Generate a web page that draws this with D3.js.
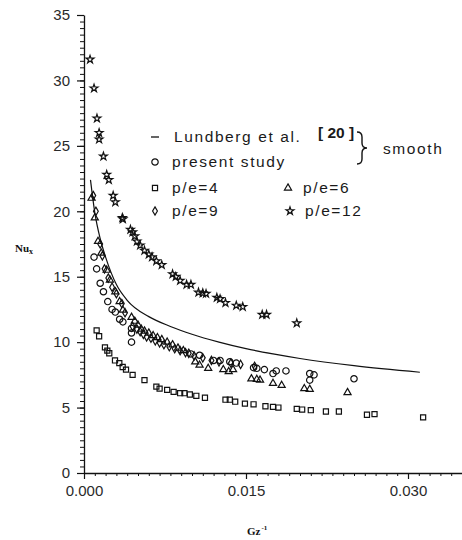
<!DOCTYPE html>
<html>
<head>
<meta charset="utf-8">
<script src="https://cdn.jsdelivr.net/npm/d3@7"></script>
<style>
  html, body { margin: 0; padding: 0; background: #fff; }
  svg { display: block; }
  .tick text { font-family: "Liberation Sans", Arial, sans-serif; font-size: 15px; fill: #2a2a2a; }
  .legend text { font-family: "Liberation Sans", Arial, sans-serif; font-size: 15.5px; fill: #1a1a1a; letter-spacing: 1.6px; }
</style>
</head>
<body>
<div id="chart"></div>
<script>
// Local Nusselt number versus inverse Graetz number

const xTicks = [0.000, 0.015, 0.030];
const yTicks = [0, 5, 10, 15, 20, 25, 30, 35];

// Lundberg et al. [20], smooth tube correlation
const lundbergGz = [0.0006, 0.0010, 0.0015, 0.0020, 0.0030, 0.0040, 0.0060, 0.0080, 0.0100, 0.0125, 0.0150, 0.0175, 0.0200, 0.0250, 0.0311];
const lundbergNu = [22.4, 19.9, 17.9, 16.5, 14.4, 13.2, 11.95, 11.2, 10.6, 10.0, 9.5, 9.1, 8.75, 8.2, 7.7];

// present study, smooth tube
const smoothGz = [0.00093, 0.00117, 0.0015, 0.0018, 0.0022, 0.0026, 0.0029, 0.0033, 0.0036, 0.0044, 0.0044, 0.0044, 0.0099, 0.0107, 0.0120, 0.0126, 0.0135, 0.0141, 0.0157, 0.0160, 0.0167, 0.0175, 0.0178, 0.0187, 0.0209, 0.0213, 0.0209, 0.0250];
const smoothNu = [16.5, 15.6, 14.5, 13.85, 13.1, 12.5, 12.3, 11.75, 11.55, 11.05, 10.7, 10.0, 9.1, 9.0, 8.6, 8.6, 8.5, 8.4, 8.05, 8.0, 7.9, 7.6, 7.8, 7.8, 7.6, 7.5, 7.1, 7.2];

// p/e = 4
const pe4Gz = [0.00117, 0.0014, 0.00194, 0.00216, 0.00234, 0.00287, 0.00327, 0.00358, 0.00389, 0.0045, 0.0056, 0.0067, 0.0070, 0.0077, 0.0083, 0.0089, 0.0093, 0.0098, 0.0104, 0.0112, 0.0131, 0.0135, 0.0140, 0.0149, 0.0157, 0.0168, 0.0175, 0.0180, 0.0197, 0.0202, 0.0210, 0.0224, 0.0236, 0.0262, 0.0269, 0.0314];
const pe4Nu = [10.9, 10.45, 9.6, 9.35, 9.15, 8.6, 8.4, 8.1, 7.9, 7.5, 7.1, 6.6, 6.45, 6.35, 6.2, 6.1, 6.1, 6.0, 5.9, 5.75, 5.6, 5.6, 5.45, 5.3, 5.25, 5.1, 5.05, 5.0, 4.9, 4.85, 4.8, 4.7, 4.7, 4.45, 4.5, 4.25];

// p/e = 6
const pe6Gz = [0.0007, 0.0010, 0.0013, 0.0016, 0.0021, 0.0024, 0.0029, 0.0033, 0.0036, 0.0044, 0.0047, 0.0050, 0.0053, 0.0056, 0.0060, 0.0064, 0.0068, 0.0072, 0.0077, 0.0082, 0.0087, 0.0092, 0.0103, 0.0107, 0.0115, 0.0129, 0.0134, 0.0138, 0.0155, 0.0160, 0.0163, 0.0175, 0.0183, 0.0204, 0.0209, 0.0244];
const pe6Nu = [21.0, 19.5, 17.7, 16.8, 15.5, 14.75, 13.85, 13.1, 12.45, 11.9, 11.6, 11.3, 11.0, 10.85, 10.7, 10.5, 10.35, 10.2, 10.0, 9.8, 9.55, 9.35, 8.5, 8.25, 8.0, 7.9, 7.75, 7.9, 7.2, 7.15, 7.1, 6.85, 6.7, 6.45, 6.4, 6.15];

// p/e = 9
const pe9Gz = [0.00086, 0.0011, 0.0015, 0.0017, 0.0019, 0.00225, 0.0026, 0.0030, 0.0035, 0.0038, 0.0045, 0.0049, 0.0052, 0.0055, 0.0058, 0.0062, 0.0066, 0.0070, 0.0074, 0.0079, 0.0084, 0.0089, 0.0094, 0.0097, 0.0102, 0.0110, 0.0118, 0.0125, 0.0136, 0.0145, 0.0158];
const pe9Nu = [21.2, 20.0, 17.5, 16.6, 15.6, 14.9, 14.2, 13.7, 12.95, 12.25, 11.2, 11.0, 10.8, 10.6, 10.4, 10.3, 10.1, 9.95, 9.8, 9.65, 9.5, 9.35, 9.2, 9.15, 8.95, 8.8, 8.6, 8.5, 8.4, 8.3, 8.15];

// p/e = 12
const pe12Gz = [0.00056, 0.00093, 0.0012, 0.0014, 0.0014, 0.0018, 0.0021, 0.0023, 0.0027, 0.0029, 0.00355, 0.0036, 0.0043, 0.0045, 0.0047, 0.0049, 0.0052, 0.0056, 0.0060, 0.0063, 0.0067, 0.0072, 0.0082, 0.0085, 0.0089, 0.0095, 0.0099, 0.0106, 0.0110, 0.0113, 0.0123, 0.0126, 0.0131, 0.0141, 0.0147, 0.0165, 0.0169, 0.0197];
const pe12Nu = [31.6, 29.4, 27.1, 26.0, 25.5, 24.2, 22.8, 22.4, 21.2, 20.7, 19.5, 19.4, 18.6, 18.4, 18.1, 17.7, 17.4, 17.0, 16.7, 16.5, 16.2, 15.9, 15.2, 15.0, 14.7, 14.4, 14.4, 13.8, 13.75, 13.7, 13.4, 13.3, 13.0, 12.8, 12.7, 12.1, 12.1, 11.45];

const W = 462, H = 540;
const svg = d3.select("#chart").append("svg").attr("width", W).attr("height", H);

const x = d3.scaleLinear().domain([0, 0.035]).range([84, 462]);
const y = d3.scaleLinear().domain([0, 35]).range([473, 15]);

// minor ticks
const yMinor = d3.range(0, 35.01, 0.5);
const xMinor = d3.range(0, 0.0351, 0.001);

svg.append("g").attr("transform", `translate(${x(0)},0)`)
  .call(d3.axisLeft(y).tickValues(yMinor).tickSize(4).tickSizeOuter(0).tickFormat(""))
  .call(g => g.select(".domain").remove())
  .selectAll("line").attr("stroke", "#111").attr("stroke-width", 1);

svg.append("g").attr("transform", `translate(0,${y(0)})`)
  .call(d3.axisBottom(x).tickValues(xMinor).tickSize(3).tickSizeOuter(0).tickFormat(""))
  .call(g => g.select(".domain").remove())
  .selectAll("line").attr("stroke", "#111").attr("stroke-width", 1);

// major axes
const yAxis = svg.append("g").attr("transform", `translate(${x(0)},0)`)
  .call(d3.axisLeft(y).tickValues(yTicks).tickSize(7).tickSizeOuter(0).tickPadding(7).tickFormat(d3.format("d")));
yAxis.select(".domain").attr("stroke", "#111").attr("stroke-width", 1.3);
yAxis.selectAll(".tick line").attr("stroke", "#111").attr("stroke-width", 1.2);

const xAxis = svg.append("g").attr("transform", `translate(0,${y(0)})`)
  .call(d3.axisBottom(x).tickValues(xTicks).tickSize(6).tickSizeOuter(0).tickPadding(6).tickFormat(d3.format(".3f")));
xAxis.select(".domain").attr("stroke", "#111").attr("stroke-width", 1.3);
xAxis.selectAll(".tick line").attr("stroke", "#111").attr("stroke-width", 1.2);

// axis titles
const ylab = svg.append("text").attr("x", 15).attr("y", 252)
  .attr("font-family", "Liberation Serif, serif").attr("font-weight", "bold").attr("font-size", 11).attr("fill", "#111");
ylab.append("tspan").text("Nu");
ylab.append("tspan").attr("font-size", 8).attr("dy", 2).text("x");

const xlab = svg.append("text").attr("x", 247).attr("y", 535)
  .attr("font-family", "Liberation Serif, serif").attr("font-weight", "bold").attr("font-size", 11).attr("fill", "#111");
xlab.append("tspan").text("Gz");
xlab.append("tspan").attr("font-size", 7).attr("dy", -5).attr("dx", 1).text("-1");

// correlation curve
const curve = d3.line().x(d => x(d[0])).y(d => y(d[1])).curve(d3.curveMonotoneX);
svg.append("path").datum(d3.zip(lundbergGz, lundbergNu))
  .attr("d", curve).attr("fill", "none").attr("stroke", "#111").attr("stroke-width", 1.2);

const series = [
  { gz: smoothGz, nu: smoothNu, type: d3.symbolCircle, size: 32 },
  { gz: pe4Gz, nu: pe4Nu, type: d3.symbolSquare, size: 26 },
  { gz: pe6Gz, nu: pe6Nu, type: d3.symbolTriangle, size: 22 },
  { gz: pe9Gz, nu: pe9Nu, type: d3.symbolDiamond, size: 20 },
  { gz: pe12Gz, nu: pe12Nu, type: d3.symbolStar, size: 19 }
];

series.forEach(s => {
  const sym = d3.symbol().type(s.type).size(s.size);
  svg.append("g").selectAll("path").data(d3.zip(s.gz, s.nu)).join("path")
    .attr("d", sym)
    .attr("transform", d => `translate(${x(d[0])},${y(d[1])})`)
    .attr("fill", "none").attr("stroke", "#111").attr("stroke-width", 1.2);
});

// legend
const lg = svg.append("g").attr("class", "legend");
const rows = [137, 162, 188, 211];
lg.append("line").attr("x1", 151).attr("x2", 159).attr("y1", rows[0]).attr("y2", rows[0])
  .attr("stroke", "#111").attr("stroke-width", 1.3);
lg.append("text").attr("x", 174).attr("y", rows[0] + 5).text("Lundberg et al.");
lg.append("text").attr("x", 318).attr("y", rows[0] + 1)
  .attr("font-family", "Liberation Serif, serif").attr("font-weight", "bold").attr("font-size", 10.5)
  .style("letter-spacing", "0px").text("[ 20 ]");
// brace grouping the two smooth-tube entries
lg.append("path")
  .attr("d", "M357,132 Q362,132 362,137 L362,143 Q362,148 367,148 Q362,148 362,153 L362,159 Q362,164 357,164")
  .attr("fill", "none").attr("stroke", "#111").attr("stroke-width", 1.4);
lg.append("text").attr("x", 383).attr("y", rows[0] + 17).text("smooth");

const legendItems = [
  { type: d3.symbolCircle, size: 32, cx: 155, cy: rows[1], label: "present study", tx: 172 },
  { type: d3.symbolSquare, size: 26, cx: 155, cy: rows[2], label: "p/e=4", tx: 172 },
  { type: d3.symbolTriangle, size: 22, cx: 288, cy: rows[2], label: "p/e=6", tx: 303 },
  { type: d3.symbolDiamond, size: 20, cx: 155, cy: rows[3], label: "p/e=9", tx: 172 },
  { type: d3.symbolStar, size: 19, cx: 290, cy: rows[3], label: "p/e=12", tx: 305 }
];
legendItems.forEach(it => {
  lg.append("path").attr("d", d3.symbol().type(it.type).size(it.size)())
    .attr("transform", `translate(${it.cx},${it.cy})`)
    .attr("fill", "none").attr("stroke", "#111").attr("stroke-width", 1.2);
  lg.append("text").attr("x", it.tx).attr("y", it.cy + 5).text(it.label);
});
</script>
</body>
</html>
